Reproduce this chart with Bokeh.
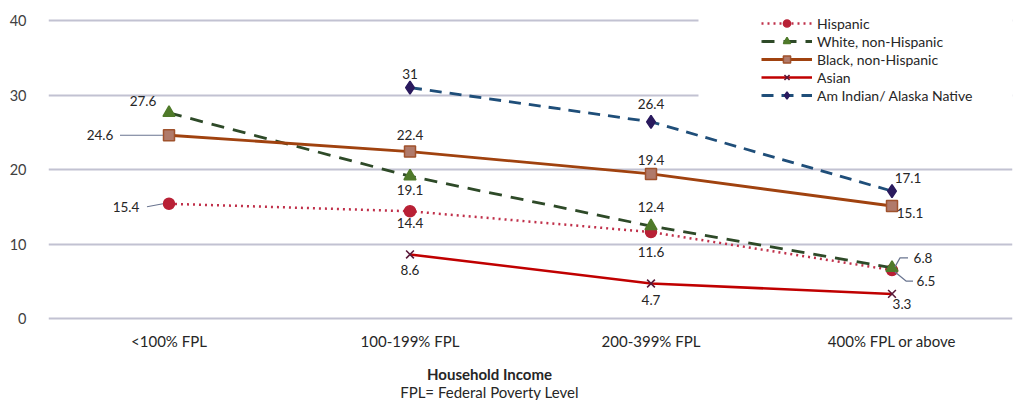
import math
from bokeh.plotting import figure
from bokeh.models import Range1d, FixedTicker, Label, Legend, LegendItem, BoxAnnotation
from bokeh.embed import file_html
from bokeh.resources import INLINE

# ---------------- data ----------------
categories = ["<100% FPL", "100-199% FPL", "200-399% FPL", "400% FPL or above"]
hispanic = [15.4, 14.4, 11.6, 6.5]
white = [27.6, 19.1, 12.4, 6.8]
black = [24.6, 22.4, 19.4, 15.1]
asian = [None, 8.6, 4.7, 3.3]
am_indian = [None, 31, 26.4, 17.1]
series_names = ["Hispanic", "White, non-Hispanic", "Black, non-Hispanic", "Asian",
                "Am Indian/ Alaska Native"]
y_ticks = [0, 10, 20, 30, 40]
x_title = "Household Income"
x_note = "FPL= Federal Poverty Level"

# ---------------- styles ----------------
FONT = "Lato"
TXT = "#262626"
W, H = 1016, 400
LEFT = 48
PXX = 241.0       # px per x unit
PXY = 7.45        # px per y unit
ZERO_Y = 318      # pixel row of y = 0
Y_TOP = ZERO_Y / PXY
Y_BOTTOM = -(H - ZERO_Y) / PXY
X_END = (W - 4 - LEFT) / PXX

styles = [
    dict(line_color="#C0304A", line_dash="2 4", line_width=2.5, marker="circle",
         fill="#B82035", mline="#B82035", size=11),
    dict(line_color="#2E4A28", line_dash="13 9", line_width=2.8, marker="triangle",
         fill="#4F7A2A", mline="#4F7A2A", size=12),
    dict(line_color="#A0420F", line_dash="solid", line_width=2.8, marker="square",
         fill="#B07A6A", mline="#A0522D", size=11),
    dict(line_color="#C00000", line_dash="solid", line_width=2.5, marker="x",
         fill="#5B1A3A", mline="#5B1A3A", size=11),
    dict(line_color="#1F4E79", line_dash="12 8", line_width=2.8, marker="diamond",
         fill="#2A1A5E", mline="#2A1A5E", size=13),
]

# label offsets in screen px (dx, dy down)
label_offsets = [
    [(-43, 3), (0, 12), (0, 20), (34, 11)],
    [(-26, -12), (0, 14), (0, -19), (31, -10)],
    [(-69, 0), (0, -17), (0, -14), (18, 7)],
    [None, (0, 16), (0, 17), (10, 10)],
    [None, (0, -14), (0, -18), (16, -13)],
]
# leader lines: (series index, category index, list of px offsets)
leaders = [
    (0, 0, [(-22, 3), (-6, 0)]),
    (2, 0, [(-49, 0), (-6, 0)]),
    (1, 3, [(3, -1), (8, -10), (16, -10)]),
    (0, 3, [(3, 2), (14, 11), (21, 11)]),
]

all_series = [hispanic, white, black, asian, am_indian]
xs = [i + 0.5 for i in range(len(categories))]

p = figure(width=W, height=H, output_backend="svg", toolbar_location=None,
           x_range=Range1d(0, X_END), y_range=Range1d(Y_BOTTOM, Y_TOP),
           min_border_left=LEFT, min_border_right=4, min_border_top=0, min_border_bottom=0)
p.outline_line_color = None
p.background_fill_color = "white"

p.xgrid.visible = False
p.xaxis.visible = False
p.ygrid.ticker = FixedTicker(ticks=y_ticks)
p.ygrid.grid_line_color = "#C2C2D2"
p.ygrid.grid_line_width = 2

p.yaxis.ticker = FixedTicker(ticks=y_ticks)
p.yaxis.axis_line_color = None
p.yaxis.major_tick_line_color = None
p.yaxis.minor_tick_line_color = None
p.yaxis.major_label_standoff = 16
p.yaxis.major_label_text_font = FONT
p.yaxis.major_label_text_font_size = "14.5px"
p.yaxis.major_label_text_color = "#404040"

# white cover under legend
p.add_layout(BoxAnnotation(left=(698 - LEFT) / PXX, right=X_END, bottom=(ZERO_Y - 103) / PXY,
                           top=Y_TOP, fill_color="white", fill_alpha=1, line_color=None,
                           level="underlay"))

items = []
for name, vals, st in zip(series_names, all_series, styles):
    ys = [float("nan") if v is None else v for v in vals]
    lr = p.line(xs, ys, line_color=st["line_color"], line_dash=st["line_dash"],
                line_width=st["line_width"])
    if st["marker"] == "x":
        mr = p.scatter(xs, ys, marker="x", size=st["size"], line_color=st["mline"],
                       line_width=1.6)
    else:
        mr = p.scatter(xs, ys, marker=st["marker"], size=st["size"], fill_color=st["fill"],
                       line_color=st["mline"], line_width=1.5)
    items.append(LegendItem(label=name, renderers=[lr, mr]))

# leader lines
for si, ci, offs in leaders:
    v = all_series[si][ci]
    lx = [xs[ci] + dx / PXX for dx, dy in offs]
    ly = [v - dy / PXY for dx, dy in offs]
    p.line(lx, ly, line_color="#6A7590", line_width=1.2)

# data labels
for si, vals in enumerate(all_series):
    for ci, v in enumerate(vals):
        if v is None:
            continue
        dx, dy = label_offsets[si][ci]
        p.add_layout(Label(x=xs[ci], y=v, x_offset=dx, y_offset=-dy, text=f"{v:g}",
                           text_align="center", text_baseline="middle",
                           text_font=FONT, text_font_size="13.5px", text_color=TXT))

# category labels (x axis)
for x, c in zip(xs, categories):
    p.add_layout(Label(x=x, y=0, y_offset=-22, text=c, text_align="center",
                       text_baseline="middle", text_font=FONT, text_font_size="15px",
                       text_color=TXT))

# axis titles
p.add_layout(Label(x=(489 - LEFT) / PXX, y=0, y_offset=-55, text=x_title, text_align="center",
                   text_baseline="middle", text_font=FONT, text_font_size="15px",
                   text_font_style="bold", text_color=TXT))
p.add_layout(Label(x=(489 - LEFT) / PXX, y=0, y_offset=-73, text=x_note, text_align="center",
                   text_baseline="middle", text_font=FONT, text_font_size="15px",
                   text_color=TXT))

legend = Legend(items=items, location=(713, 296), glyph_width=51, glyph_height=18,
                label_height=18, spacing=0, padding=5, label_standoff=5,
                label_text_font=FONT, label_text_font_size="14px", label_text_color=TXT,
                border_line_color=None, background_fill_alpha=0)
p.add_layout(legend)

open("out.html", "w").write(file_html(p, INLINE))
